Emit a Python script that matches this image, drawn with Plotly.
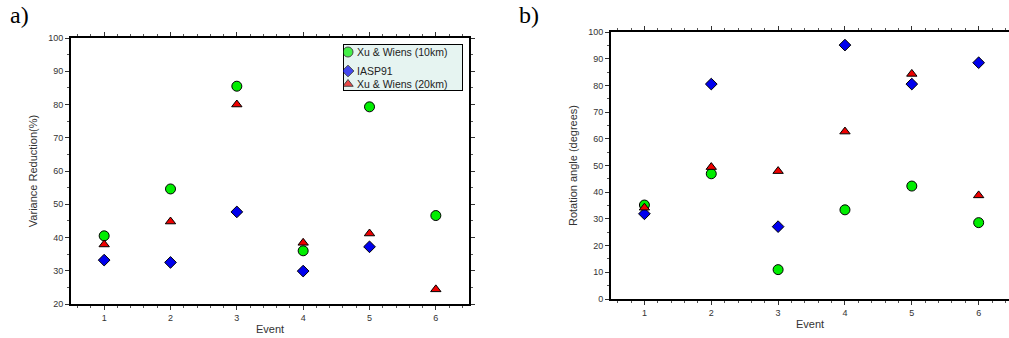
import plotly.graph_objects as go

events = [1, 2, 3, 4, 5, 6]

# Panel a: Variance Reduction (%)
vr_xw10 = [40.5, 54.6, 85.5, 36.0, 79.3, 46.6]
vr_iasp = [33.2, 32.5, 47.7, 29.9, 37.2, None]
vr_xw20 = [37.9, 44.8, 80.0, 38.4, 41.2, 24.4]

# Panel b: Rotation angle (degrees)
ra_xw10 = [35.2, 46.9, 11.0, 33.4, 42.3, 28.6]
ra_iasp = [31.9, 80.5, 27.1, 95.1, 80.5, 88.5]
ra_xw20 = [34.2, 49.4, 47.9, 62.7, 84.3, 38.8]

names = ["Xu & Wiens (10km)", "IASP91", "Xu & Wiens (20km)"]
colors = ["#00ee00", "#0000ee", "#ee0000"]
symbols = ["circle", "diamond", "triangle-up"]
sizes = [10, 9, 9]

W, H = 1009, 338
fig = go.Figure()

series_a = [vr_xw10, vr_iasp, vr_xw20]
series_b = [ra_xw10, ra_iasp, ra_xw20]
for i in range(3):
    fig.add_trace(go.Scatter(
        x=events, y=series_a[i], mode="markers", name=names[i],
        marker=dict(symbol=symbols[i], color=colors[i], size=sizes[i],
                    line=dict(color="black", width=1)),
        xaxis="x", yaxis="y", showlegend=False))
for i in range(3):
    fig.add_trace(go.Scatter(
        x=events, y=series_b[i], mode="markers", name=names[i],
        marker=dict(symbol=symbols[i], color=colors[i], size=sizes[i],
                    line=dict(color="black", width=1)),
        xaxis="x2", yaxis="y2", showlegend=False))

# custom legend box (panel a), in pixel coordinates of a hidden axis pair
leg_x0, leg_x1, leg_y0, leg_y1 = 343, 463, 44, 91
leg_rows = [52, 71, 84]
fig.add_trace(go.Scatter(
    x=[348, 348, 348], y=leg_rows, mode="markers",
    marker=dict(symbol=symbols, color=colors, size=[10, 9, 9],
                line=dict(color="black", width=1)),
    xaxis="x3", yaxis="y3", showlegend=False, hoverinfo="skip"))

tickfont = dict(family="Liberation Sans, Arial", size=9, color="#333333")
titlefont = dict(family="Liberation Sans, Arial", size=11, color="#333333")

common_x = dict(tickmode="array", tickvals=events, ticktext=[str(e) for e in events],
                ticks="outside", ticklen=4, tickwidth=1, tickcolor="#333",
                showline=True, linecolor="black", linewidth=2,
                showgrid=False, zeroline=False, tickfont=tickfont, automargin=False,
                minor=dict(dtick=0.2, tick0=0, ticks="outside", ticklen=2, tickcolor="#555"),
                title=dict(text="Event", font=titlefont, standoff=4))
common_y = dict(dtick=10, ticks="outside", ticklen=4, tickwidth=1, tickcolor="#333",
                showline=True, linecolor="black", linewidth=2, automargin=False,
                showgrid=False, zeroline=False, tickfont=tickfont,
                minor=dict(dtick=5, ticks="outside", ticklen=2, tickcolor="#555"))

annotations = [
    dict(text="a)", x=0.008, y=1.0, xref="paper", yref="paper", xanchor="left", yanchor="top",
         showarrow=False, font=dict(family="Liberation Serif, Times New Roman", size=24, color="black")),
    dict(text="b)", x=0.512, y=1.0, xref="paper", yref="paper", xanchor="left", yanchor="top",
         showarrow=False, font=dict(family="Liberation Serif, Times New Roman", size=24, color="black")),
]
for name, yy in zip(names, leg_rows):
    annotations.append(dict(text=name, x=355, y=yy, xref="x3", yref="y3", xanchor="left",
                            yanchor="middle", showarrow=False,
                            font=dict(family="Liberation Sans, Arial", size=10.5, color="#222")))

fig.update_layout(
    width=W, height=H,
    margin=dict(l=0, r=0, t=0, b=0, autoexpand=False),
    paper_bgcolor="white", plot_bgcolor="white",
    xaxis=dict(common_x, domain=[71 / W, 469 / W], range=[0.5, 6.5], mirror="ticks", anchor="y"),
    yaxis=dict(common_y, domain=[1 - 304 / H, 1 - 38 / H], range=[20, 100], mirror="ticks", anchor="x",
               title=dict(text="Variance Reduction(%)", font=titlefont, standoff=8)),
    xaxis2=dict(common_x, domain=[611 / W, 1.0], range=[0.5, 6.454], mirror="ticks", anchor="y2"),
    yaxis2=dict(common_y, domain=[1 - 299 / H, 1 - 32 / H], range=[0, 100], mirror=False, anchor="x2",
                title=dict(text="Rotation angle (degrees)", font=titlefont, standoff=8)),
    xaxis3=dict(domain=[leg_x0 / W, leg_x1 / W], range=[leg_x0, leg_x1], visible=False,
                anchor="y3", fixedrange=True),
    yaxis3=dict(domain=[1 - leg_y1 / H, 1 - leg_y0 / H], range=[leg_y1, leg_y0], visible=False,
                anchor="x3", fixedrange=True),
    shapes=[dict(type="rect", xref="x3", yref="y3", x0=leg_x0, x1=leg_x1, y0=leg_y0, y1=leg_y1,
                 fillcolor="#e6f4f1", line=dict(color="black", width=2), layer="below")],
    annotations=annotations,
)

fig.write_html("out.html", config={"displayModeBar": False},
               post_script="document.body.style.margin='0';")
